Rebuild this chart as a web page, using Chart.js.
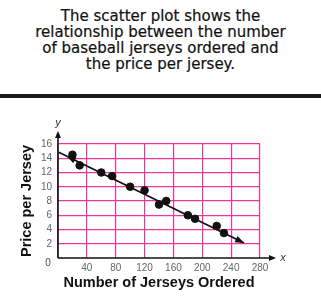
<!DOCTYPE html>
<html>
<head>
<meta charset="utf-8">
<script src="https://cdn.jsdelivr.net/npm/chart.js@4.4.0/dist/chart.umd.min.js"></script>
<style>
  html, body { margin: 0; padding: 0; background: #fff; }
  #wrap { position: relative; width: 321px; height: 305px; overflow: hidden; }
  #head { position: absolute; left: 0; top: 8px; width: 321px; text-align: center;
          font-family: "DejaVu Sans", sans-serif; font-size: 15px; line-height: 16px; color: #111;
          -webkit-text-stroke: 0.2px #111; }
  #bar { position: absolute; left: 0; top: 94px; width: 321px; height: 4px; background: #1a1a1a; }
  #cv { position: absolute; left: 0; top: 100px; }
</style>
</head>
<body>
<div id="wrap">
  <div id="head">The scatter plot shows the<br>relationship between the number<br>of baseball jerseys ordered and<br>the price per jersey.</div>
  <div id="bar"></div>
  <canvas id="cv" width="321" height="205"></canvas>
</div>
<script>
// Data
const jerseysOrdered = [20, 30, 60, 75, 100, 120, 140, 150, 180, 190, 220, 230];
const pricePerJersey = [14.5, 13, 12, 11.5, 10, 9.5, 7.5, 8, 6, 5.5, 4.5, 3.5];
const trendX = [1, 258];
const trendY = [14.85, 2.1];
const xTicks = [40, 80, 120, 160, 200, 240, 280];
const yTicks = [2, 4, 6, 8, 10, 12, 14, 16];
const xAxisTitle = "Number of Jerseys Ordered";
const yAxisTitle = "Price per Jersey";

const PINK = "#f0359a";

const axesPlugin = {
  id: "axesArrows",
  afterDatasetsDraw(chart) {
    const ctx = chart.ctx;
    const xs = chart.scales.x, ys = chart.scales.y;
    const x0 = xs.getPixelForValue(0), y0 = ys.getPixelForValue(0);
    ctx.save();
    ctx.strokeStyle = "#111"; ctx.fillStyle = "#111"; ctx.lineWidth = 1.6;
    // y axis
    const yTop = ys.getPixelForValue(16) - 13;
    ctx.beginPath(); ctx.moveTo(x0, y0); ctx.lineTo(x0, yTop + 4); ctx.stroke();
    ctx.beginPath(); ctx.moveTo(x0, yTop); ctx.lineTo(x0 - 3, yTop + 7); ctx.lineTo(x0 + 3, yTop + 7); ctx.closePath(); ctx.fill();
    // x axis
    const xEnd = xs.getPixelForValue(280) + 16;
    ctx.beginPath(); ctx.moveTo(x0, y0); ctx.lineTo(xEnd - 4, y0); ctx.stroke();
    ctx.beginPath(); ctx.moveTo(xEnd, y0); ctx.lineTo(xEnd - 7, y0 - 3); ctx.lineTo(xEnd - 7, y0 + 3); ctx.closePath(); ctx.fill();
    // axis letters
    ctx.font = "italic 11px 'Liberation Sans', Arial, sans-serif";
    ctx.textAlign = "center"; ctx.textBaseline = "middle";
    ctx.fillStyle = "#333";
    ctx.fillText("y", x0, yTop - 8);
    ctx.fillText("x", xEnd + 7, y0);
    // origin label
    ctx.font = "10px 'Liberation Sans', Arial, sans-serif";
    ctx.fillStyle = "#555";
    ctx.fillText("0", x0 - 10, y0 + 5);
    // trend line arrowheads
    ctx.fillStyle = "#111";
    const p1 = { x: xs.getPixelForValue(trendX[0]), y: ys.getPixelForValue(trendY[0]) };
    const p2 = { x: xs.getPixelForValue(trendX[1]), y: ys.getPixelForValue(trendY[1]) };
    const ang = Math.atan2(p2.y - p1.y, p2.x - p1.x);
    function head(px, py, a) {
      ctx.beginPath();
      ctx.moveTo(px, py);
      ctx.lineTo(px - 9 * Math.cos(a) + 3.5 * Math.sin(a), py - 9 * Math.sin(a) - 3.5 * Math.cos(a));
      ctx.lineTo(px - 9 * Math.cos(a) - 3.5 * Math.sin(a), py - 9 * Math.sin(a) + 3.5 * Math.cos(a));
      ctx.closePath(); ctx.fill();
    }
    head(p2.x, p2.y, ang);
    head(p1.x + 9 * Math.cos(ang), p1.y + 9 * Math.sin(ang), ang + Math.PI);
    ctx.restore();
  }
};

new Chart(document.getElementById("cv"), {
  type: "scatter",
  data: {
    datasets: [
      {
        type: "line",
        data: trendX.map((x, i) => ({ x, y: trendY[i] })),
        borderColor: "#111",
        borderWidth: 1.8,
        pointRadius: 0,
        fill: false
      },
      {
        data: jerseysOrdered.map((x, i) => ({ x, y: pricePerJersey[i] })),
        backgroundColor: "#111",
        borderColor: "#111",
        pointRadius: 3.8
      }
    ]
  },
  plugins: [axesPlugin],
  options: {
    responsive: false,
    animation: false,
    events: [],
    layout: { padding: { left: 0, top: 44, right: 61, bottom: 0 } },
    plugins: { legend: { display: false }, tooltip: { enabled: false } },
    scales: {
      x: {
        type: "linear", min: 0, max: 280,
        afterBuildTicks(s) { s.ticks = [0].concat(xTicks).map(v => ({ value: v })); },
        afterFit(s) { s.height = 47; },
        grid: { color: PINK, lineWidth: 1.2, drawTicks: false },
        border: { display: false },
        ticks: {
          padding: 4, color: "#666", font: { size: 10, family: "'Liberation Sans', Arial, sans-serif" },
          maxRotation: 0, autoSkip: false,
          callback: v => (v === 0 ? "" : v)
        },
        title: {
          display: true, text: xAxisTitle, color: "#111",
          font: { size: 14.5, weight: "bold", family: "'Liberation Sans', Arial, sans-serif" },
          padding: { top: 0, bottom: 13 }
        }
      },
      y: {
        type: "linear", min: 0, max: 16,
        afterBuildTicks(s) { s.ticks = [0].concat(yTicks).map(v => ({ value: v })); },
        afterFit(s) { s.width = 58; },
        grid: { color: c => (c.tick && c.tick.value === 0 ? "rgba(0,0,0,0)" : PINK), lineWidth: 1.2, drawTicks: false },
        border: { display: false },
        ticks: {
          padding: 6, color: "#666", font: { size: 10, family: "'Liberation Sans', Arial, sans-serif" },
          autoSkip: false,
          callback: v => (v === 0 ? "" : v)
        },
        title: {
          display: true, text: yAxisTitle, color: "#111",
          font: { size: 14.5, weight: "bold", family: "'Liberation Sans', Arial, sans-serif" },
          padding: { top: 18, bottom: 0 }
        }
      }
    }
  }
});
</script>
</body>
</html>
